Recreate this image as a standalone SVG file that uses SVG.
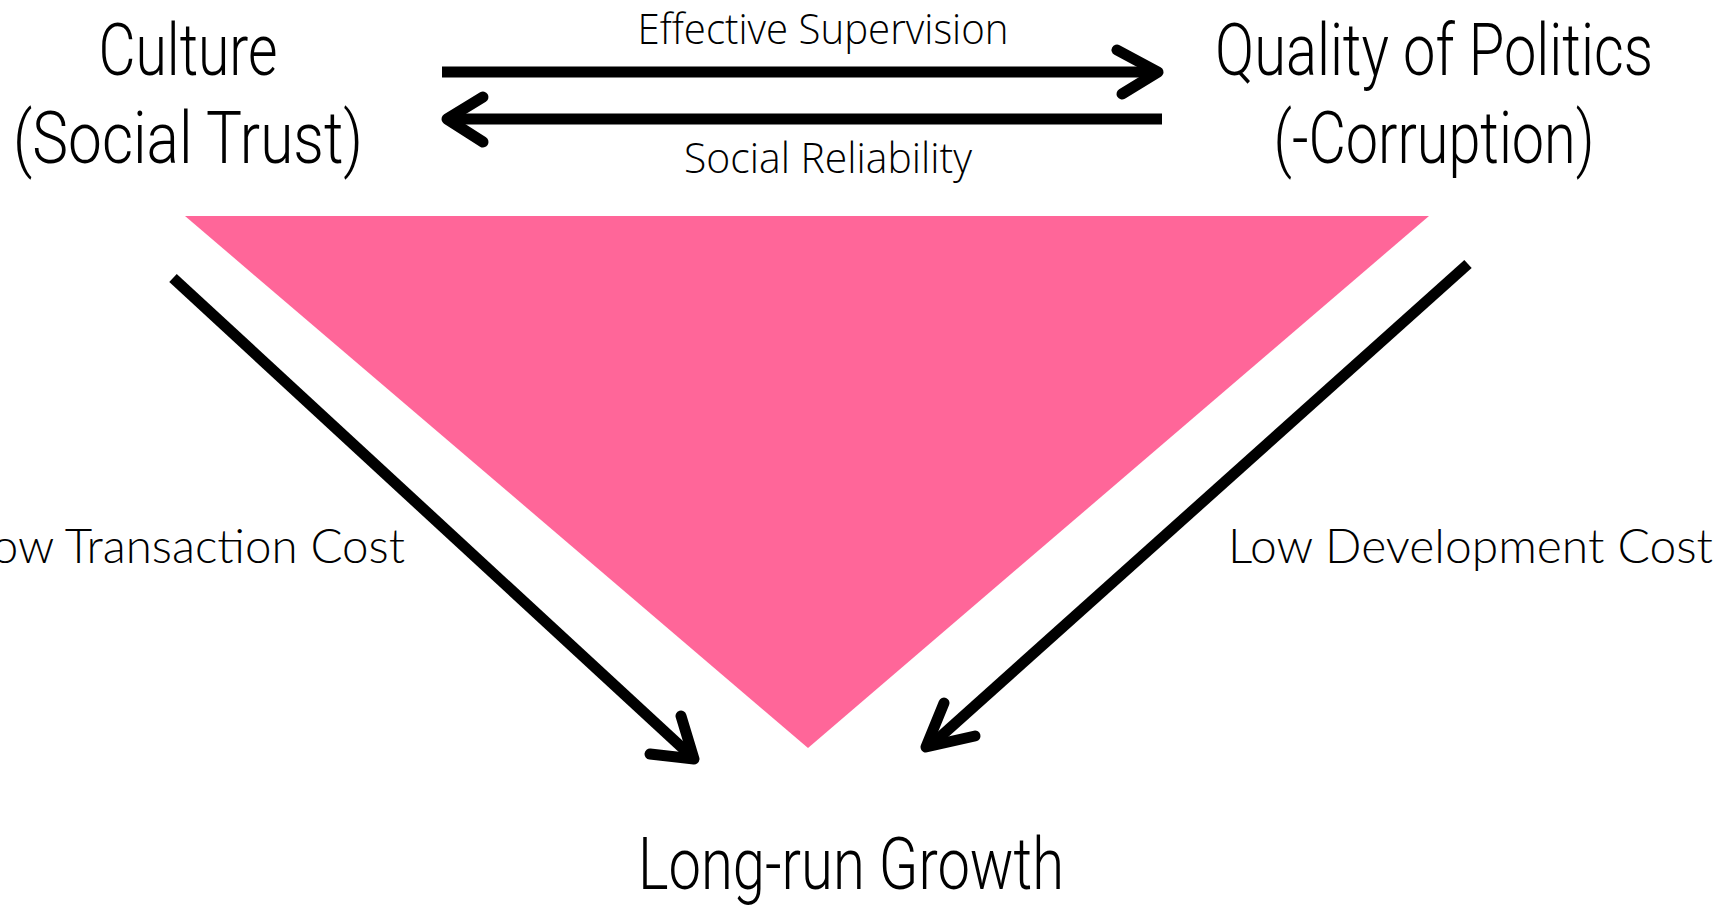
<svg xmlns="http://www.w3.org/2000/svg" width="1724" height="906" viewBox="0 0 1724 906">
<style>
.title{font-family:Roboto,"Liberation Sans",sans-serif;font-weight:300;font-size:72px;fill:#000;text-anchor:middle}
.edge{font-family:"Open Sans","Liberation Sans",sans-serif;font-weight:300;font-size:43px;fill:#000;text-anchor:middle}
.side{font-family:Lato,"Liberation Sans",sans-serif;font-weight:300;font-size:48px;fill:#000}
.conn{stroke:#000;stroke-width:11;fill:none;stroke-linecap:round;stroke-linejoin:round}
.line{stroke:#000;stroke-width:11;fill:none;stroke-linecap:butt}
</style>
<rect width="1724" height="906" fill="#fff"/>
<g id="triangle"><polygon points="185,216 1429,216 808,748" fill="#FF6699"/></g>
<g id="connectors">
  <line class="line" x1="442" y1="72" x2="1154" y2="72"/>
  <polyline class="conn" points="1117,50 1158,72 1122,94"/>
  <line class="line" x1="451" y1="119" x2="1162" y2="119"/>
  <polyline class="conn" points="483,97 447,119 483,142"/>
  <line class="line" x1="173" y1="278" x2="689" y2="754"/>
  <polyline class="conn" points="650,754 694,759 681,716"/>
  <line class="line" x1="1468" y1="264" x2="930" y2="746"/>
  <polyline class="conn" points="975,736 926,747 944,703"/>
</g>
<g id="culture">
  <text class="title" x="188" y="75" textLength="179" lengthAdjust="spacingAndGlyphs">Culture</text>
  <text class="title" x="188" y="163" textLength="350" lengthAdjust="spacingAndGlyphs">(Social Trust)</text>
</g>
<g id="politics">
  <text class="title" x="1434" y="75" textLength="438" lengthAdjust="spacingAndGlyphs">Quality of Politics</text>
  <text class="title" x="1434" y="163" textLength="321" lengthAdjust="spacingAndGlyphs">(-Corruption)</text>
</g>
<g id="growth">
  <text class="title" x="851" y="889" textLength="426" lengthAdjust="spacingAndGlyphs">Long-run Growth</text>
</g>
<g id="labels">
  <text class="edge" x="823" y="44" textLength="371" lengthAdjust="spacingAndGlyphs">Effective Supervision</text>
  <text class="edge" x="828" y="173" textLength="288" lengthAdjust="spacingAndGlyphs">Social Reliability</text>
  <text class="side" x="-30" y="563" textLength="435" lengthAdjust="spacingAndGlyphs">Low Transaction Cost</text>
  <text class="side" x="1228" y="563" textLength="485" lengthAdjust="spacingAndGlyphs">Low Development Cost</text>
</g>
</svg>
